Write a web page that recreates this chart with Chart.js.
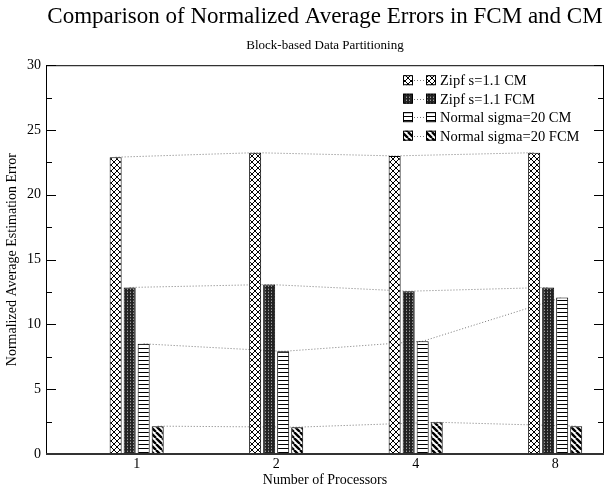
<!DOCTYPE html>
<html>
<head>
<meta charset="utf-8">
<title>Normalized Average Errors in FCM and CM</title>
<script src="https://cdn.jsdelivr.net/npm/chart.js@4.4.0/dist/chart.umd.min.js"></script>
<style>
  body { margin: 0; background: #fff; }
  #wrap { width: 608px; height: 491px; }
</style>
</head>
<body>
<div id="wrap"><canvas id="errChart" width="608" height="491"></canvas></div>
<script>
// values
const xLabels = ['1', '2', '4', '8'];
const xPos = [1, 2, 3, 4];
const zipfCM = [22.9, 23.25, 23.0, 23.25];
const zipfFCM = [12.85, 13.08, 12.56, 12.85];
const normalCM = [8.5, 7.92, 8.7, 12.08];
const normalFCM = [2.15, 2.07, 2.45, 2.15];
const seriesNames = ['Zipf s=1.1 CM', 'Zipf s=1.1 FCM', 'Normal sigma=20 CM', 'Normal sigma=20 FCM'];
const yTicks = [0, 5, 10, 15, 20, 25, 30];

const serif = 'Liberation Serif';

// small tiles used as bar fills
function makePattern(w, h, draw) {
  const c = document.createElement('canvas');
  c.width = w; c.height = h;
  const g = c.getContext('2d');
  draw(g, w, h);
  return g.createPattern(c, 'repeat');
}
const ctx = document.getElementById('errChart').getContext('2d');

const crossFill = makePattern(6, 6, (g, w, h) => {
  g.fillStyle = '#fff'; g.fillRect(0, 0, w, h);
  g.strokeStyle = '#000'; g.lineWidth = 1;
  g.beginPath();
  g.moveTo(0, 0); g.lineTo(w, h);
  g.moveTo(w, 0); g.lineTo(0, h);
  g.stroke();
});
const darkFill = makePattern(3, 3, (g, w, h) => {
  g.fillStyle = '#222'; g.fillRect(0, 0, w, h);
  g.fillStyle = '#9a9a9a'; g.fillRect(1, 1, 1, 1);
  g.fillStyle = '#555'; g.fillRect(1, 0, 1, 1);
});
const hlineFill = makePattern(4, 4, (g, w, h) => {
  g.fillStyle = '#fff'; g.fillRect(0, 0, w, h);
  g.fillStyle = '#000'; g.fillRect(0, 0, w, 1);
});
const diagFill = makePattern(6, 6, (g, w, h) => {
  g.fillStyle = '#fff'; g.fillRect(0, 0, w, h);
  g.strokeStyle = '#000'; g.lineWidth = 2.4;
  g.beginPath();
  for (let k = -1; k <= 1; k++) {
    g.moveTo(k * w, 0); g.lineTo(k * w + w, h);
  }
  g.stroke();
});
const fills = [crossFill, darkFill, hlineFill, diagFill];
const series = [zipfCM, zipfFCM, normalCM, normalFCM];

// dotted lines joining the tops of each series, behind the bars
const joinLines = {
  id: 'joinLines',
  beforeDatasetsDraw(chart) {
    const c = chart.ctx;
    c.save();
    c.strokeStyle = '#777';
    c.lineWidth = 1;
    c.setLineDash([1, 2]);
    chart.data.datasets.forEach((ds, i) => {
      const pts = chart.getDatasetMeta(i).data;
      c.beginPath();
      pts.forEach((p, j) => {
        if (j === 0) c.moveTo(p.x, p.y); else c.lineTo(p.x, p.y);
      });
      c.stroke();
    });
    c.restore();
  }
};

// box around the plot and inward tick marks on both sides
const frame = {
  id: 'frame',
  afterDatasetsDraw(chart) {
    const { left, right, top, bottom } = chart.chartArea;
    const y = chart.scales.y;
    const c = chart.ctx;
    c.save();
    c.strokeStyle = '#000';
    c.lineWidth = 1;
    c.strokeRect(left + 0.5, top + 0.5, right - left - 1, bottom - top);
    c.beginPath();
    for (let v = 0; v <= 30; v += 2.5) {
      const py = Math.round(y.getPixelForValue(v)) + 0.5;
      const len = yTicks.includes(v) ? 10 : 6;
      c.moveTo(left, py); c.lineTo(left + len, py);
      c.moveTo(right, py); c.lineTo(right - len, py);
    }
    c.stroke();
    c.strokeStyle = '#333';
    c.lineWidth = 2;
    c.beginPath();
    c.moveTo(left, bottom); c.lineTo(right, bottom);
    c.stroke();
    c.restore();
  }
};

// legend in the upper right: box ... box  label
const boxLegend = {
  id: 'boxLegend',
  afterDraw(chart) {
    const { right, top } = chart.chartArea;
    const c = chart.ctx;
    const lx = right - 201;
    c.save();
    c.font = '14.5px "' + serif + '"';
    c.textBaseline = 'middle';
    chart.data.datasets.forEach((ds, i) => {
      const cy = top + 15 + i * 18.5;
      [lx, lx + 23].forEach(bx => {
        c.fillStyle = ds.backgroundColor;
        c.fillRect(bx, cy - 5, 10, 10);
        c.strokeStyle = '#000';
        c.lineWidth = 1;
        c.strokeRect(bx + 0.5, cy - 4.5, 9, 9);
      });
      c.strokeStyle = '#777';
      c.setLineDash([1, 2]);
      c.beginPath();
      c.moveTo(lx + 11, Math.round(cy) + 0.5);
      c.lineTo(lx + 23, Math.round(cy) + 0.5);
      c.stroke();
      c.setLineDash([]);
      c.fillStyle = '#000';
      c.fillText(ds.label, lx + 37, cy + 1);
    });
    c.restore();
  }
};

new Chart(ctx, {
  type: 'bar',
  data: {
    datasets: series.map((vals, i) => ({
      label: seriesNames[i],
      data: vals.map((v, j) => ({ x: xPos[j], y: v })),
      backgroundColor: fills[i],
      borderColor: '#000',
      borderWidth: 1,
      categoryPercentage: 0.402,
      barPercentage: 0.857
    }))
  },
  options: {
    responsive: false,
    animation: false,
    devicePixelRatio: 1,
    layout: { padding: { top: 0, right: 4, bottom: 0, left: 0 } },
    plugins: {
      legend: { display: false },
      tooltip: { enabled: false },
      title: {
        display: true,
        text: 'Comparison of Normalized Average Errors in FCM and CM',
        color: '#000',
        fullSize: false,
        font: { family: serif, size: 23, weight: 'normal' },
        padding: { top: 3, bottom: 7 }
      },
      subtitle: {
        display: true,
        text: 'Block-based Data Partitioning',
        color: '#000',
        fullSize: false,
        font: { family: serif, size: 13, weight: 'normal' },
        padding: { top: 0, bottom: 12 }
      }
    },
    scales: {
      x: {
        type: 'linear',
        min: 0.35,
        max: 4.35,
        offset: false,
        grid: { display: false, drawTicks: false },
        border: { display: false },
        afterBuildTicks: s => { s.ticks = xPos.map(v => ({ value: v })); },
        afterFit: s => { s.height = 37; },
        ticks: {
          autoSkip: false,
          maxRotation: 0,
          padding: 2,
          color: '#000',
          font: { family: serif, size: 14 },
          callback: v => xLabels[xPos.indexOf(v)] ?? ''
        },
        title: {
          display: true,
          text: 'Number of Processors',
          color: '#000',
          font: { family: serif, size: 14 },
          padding: { top: 0, bottom: 2 }
        }
      },
      y: {
        min: 0,
        max: 30,
        grid: { display: false, drawTicks: false },
        border: { display: false },
        afterFit: s => { s.width = 46; },
        ticks: {
          stepSize: 2.5,
          padding: 5,
          color: '#000',
          font: { family: serif, size: 14 },
          callback: v => (yTicks.includes(v) ? v : '')
        },
        title: {
          display: true,
          text: 'Normalized Average Estimation Error',
          color: '#000',
          font: { family: serif, size: 14 },
          padding: { top: 4, bottom: 0 }
        }
      }
    }
  },
  plugins: [joinLines, frame, boxLegend]
});
</script>
</body>
</html>
